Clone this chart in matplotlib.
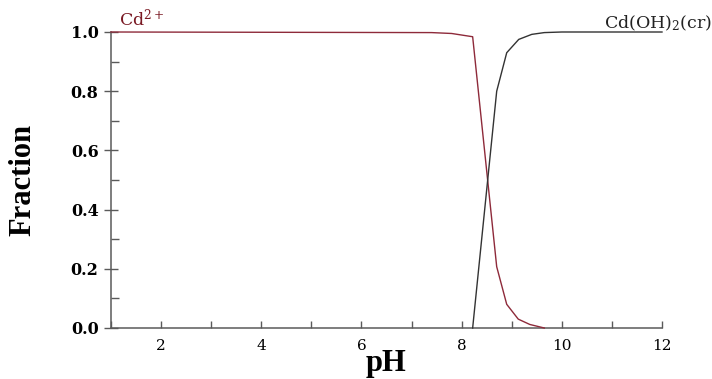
import matplotlib
matplotlib.use("Agg")
import matplotlib.pyplot as plt
from matplotlib.ticker import MultipleLocator

plt.rcParams["mathtext.fontset"] = "dejavuserif"

# values
ph_cd = [1.0, 7.4, 7.8, 8.22, 8.70, 8.90, 9.13, 9.36, 9.65]
frac_cd = [1.0, 0.998, 0.995, 0.984, 0.207, 0.080, 0.030, 0.012, 0.0]

ph_oh = [8.22, 8.70, 8.90, 9.14, 9.40, 9.65, 10.0, 12.0]
frac_oh = [0.0, 0.80, 0.93, 0.975, 0.992, 0.998, 1.0, 1.0]

x_ticks = [2, 4, 6, 8, 10, 12]
y_ticks = [0.0, 0.2, 0.4, 0.6, 0.8, 1.0]

red = "#8e2a3a"
axis_col = "#5a5a5a"

fig = plt.figure(figsize=(7.12, 3.79), dpi=100)
ax = fig.add_axes([111 / 712, 51 / 379, 551 / 712, 296 / 379])

ax.plot(ph_cd, frac_cd, color=red, lw=1.0, clip_on=False, zorder=3)
ax.plot(ph_oh, frac_oh, color="#333333", lw=1.0, clip_on=False, zorder=3)

ax.set_xlim(1, 12)
ax.set_ylim(0, 1.0)
ax.set_xticks(x_ticks)
ax.set_yticks(y_ticks)
ax.set_yticklabels([f"{v:.1f}" for v in y_ticks])
ax.xaxis.set_minor_locator(MultipleLocator(1))
ax.yaxis.set_minor_locator(MultipleLocator(0.1))

for s in ["top", "right"]:
    ax.spines[s].set_visible(False)
for s in ["left", "bottom"]:
    ax.spines[s].set_color(axis_col)
    ax.spines[s].set_linewidth(1.1)

ax.tick_params(axis="x", which="both", direction="in", length=5, width=1,
               color=axis_col, labelsize=11, pad=8)
ax.tick_params(axis="y", which="major", direction="inout", length=10, width=1,
               color=axis_col, labelsize=11.5, pad=4)
ax.tick_params(axis="y", which="minor", direction="in", length=6, width=1,
               color=axis_col)
for lab in ax.get_xticklabels():
    lab.set_family("DejaVu Serif")
for lab in ax.get_yticklabels():
    lab.set_family("DejaVu Serif")
    lab.set_fontweight("bold")

ax.set_xlabel("pH", family="Liberation Serif", fontweight="bold",
              fontsize=22, labelpad=-3)
ax.set_ylabel("Fraction", family="Liberation Serif", fontweight="bold",
              fontsize=22, labelpad=24)

ax.text(1.15, 1.01, r"Cd$^{2+}$", color="#7a1a24", family="DejaVu Serif",
        fontsize=12.5, ha="left", va="bottom")
ax.text(13.0, 0.995, r"Cd(OH)$_2$(cr)", color="#222222", family="DejaVu Serif",
        fontsize=12.5, ha="right", va="bottom", clip_on=False)

fig.savefig("out.png", dpi=100)
